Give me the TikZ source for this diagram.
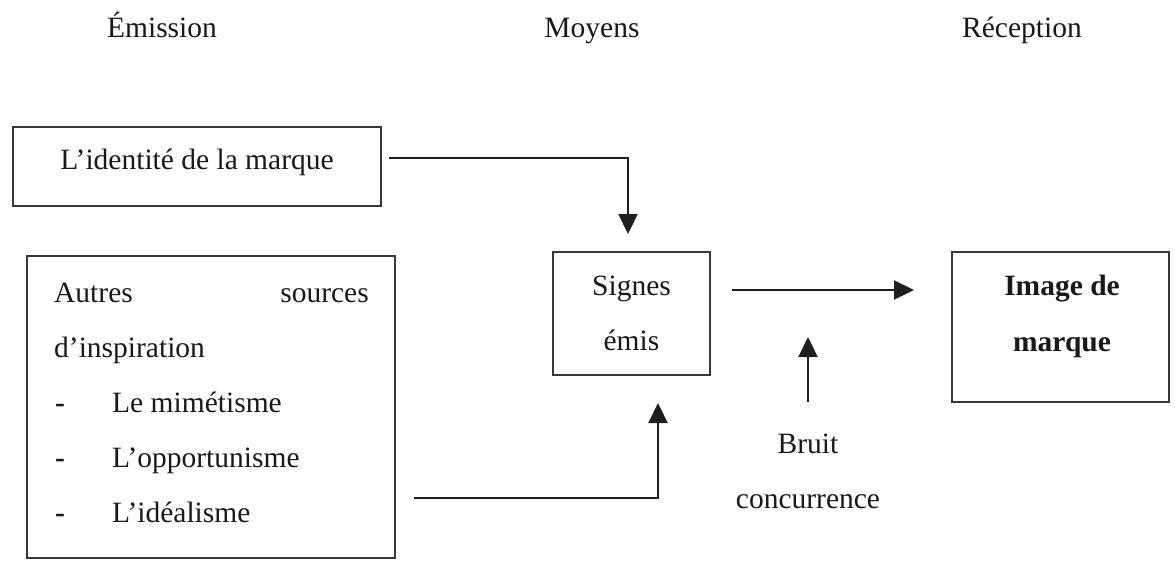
\documentclass[tikz,border=0pt]{standalone}
\usepackage{fontspec}
\setmainfont{Liberation Serif}
\usetikzlibrary{arrows.meta}
\begin{document}
\begin{tikzpicture}[x=1pt,y=-1pt,
  box/.style={draw=black!78, line width=2pt, inner sep=0pt},
  lbl/.style={anchor=base, inner sep=0pt, text=black!90, font=\fontsize{29.5}{34}\selectfont},
  arr/.style={draw=black!88, line width=2.2pt, -{Triangle[length=20pt,width=19pt]}}]
\useasboundingbox (0,0) rectangle (1175,562);

% column headings
\node[lbl] (hEm) at (162,37) {Émission};
\node[lbl] (hMo) at (592,37) {Moyens};
\node[lbl] (hRe) at (1022,37) {Réception};

% boxes
\node[box, minimum width=368pt, minimum height=79pt] (id) at (197,166.5) {};
\node[box, minimum width=368pt, minimum height=302pt] (src) at (211,407) {};
\node[box, minimum width=157pt, minimum height=123pt] (sig) at (631.5,313.5) {};
\node[box, minimum width=217pt, minimum height=150pt] (img) at (1060.5,327) {};

% box texts
\node[lbl] (tId) at (197,169.5) {L’identité de la marque};

\node[lbl, anchor=base west] (tAu) at (54,302) {Autres};
\node[lbl, anchor=base east] (tSo) at (369,302) {sources};
\node[lbl, anchor=base west] (tIn) at (54,357) {d’inspiration};
\node[lbl, anchor=base west] (b1) at (55,412) {\textbf{-}};
\node[lbl, anchor=base west] (i1) at (112,412) {Le mimétisme};
\node[lbl, anchor=base west] (b2) at (55,467) {\textbf{-}};
\node[lbl, anchor=base west] (i2) at (112,467) {L’opportunisme};
\node[lbl, anchor=base west] (b3) at (55,522) {\textbf{-}};
\node[lbl, anchor=base west] (i3) at (112,522) {L’idéalisme};

\node[lbl] (tSi) at (631.5,295) {Signes};
\node[lbl] (tEm) at (631.5,350) {émis};

\node[lbl, font=\fontsize{29.5}{34}\selectfont\bfseries] (tIm) at (1062,295) {Image de};
\node[lbl, font=\fontsize{29.5}{34}\selectfont\bfseries] (tMa) at (1062,351) {marque};

\node[lbl] (tBr) at (808,453) {Bruit};
\node[lbl] (tCo) at (808,508) {concurrence};

% connectors
\draw[arr, shorten <=7pt, shorten >=17pt] ([yshift=8.5pt]id.east) -| ([xshift=-3.5pt]sig.north);
\draw[arr, shorten <=18pt, shorten >=27pt] ([yshift=-91pt]src.east) -| ([xshift=26.5pt]sig.south);
\coordinate (m3) at ([yshift=23.5pt]sig.east);
\draw[arr, shorten <=21pt, shorten >=37pt] (m3) -- (m3 -| img.west);
\draw[arr, shorten <=31pt, shorten >=47pt] (tBr.north) -- (tBr.north |- m3);
\end{tikzpicture}
\end{document}
